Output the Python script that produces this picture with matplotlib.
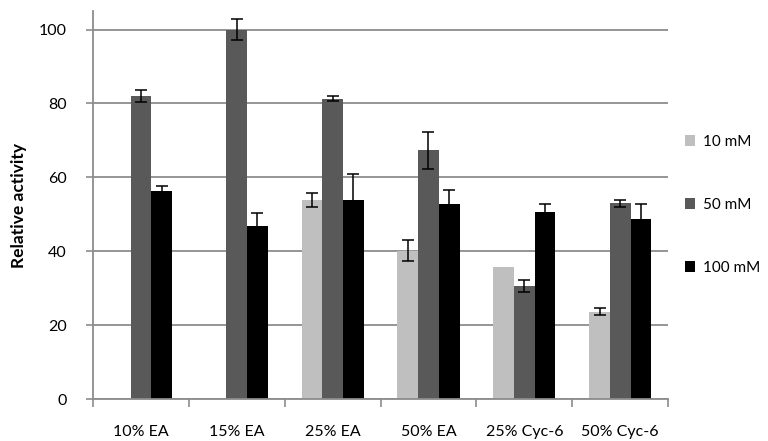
import numpy as np
import matplotlib
matplotlib.use("Agg")
import matplotlib.pyplot as plt

# solvent conditions and measured activity per salt concentration
categories = ["10% EA", "15% EA", "25% EA", "50% EA", "25% Cyc-6", "50% Cyc-6"]
series_names = ["10 mM", "50 mM", "100 mM"]

act_10 = [np.nan, np.nan, 53.8, 40.2, 35.8, 23.7]
act_50 = [82.0, 100.0, 81.3, 67.3, 30.5, 53.0]
act_100 = [56.3, 46.9, 53.8, 52.9, 50.5, 48.7]

err_10 = [np.nan, np.nan, 1.9, 2.9, np.nan, 0.9]
err_50 = [1.5, 2.8, 0.7, 5.0, 1.6, 0.9]
err_100 = [1.4, 3.5, 7.2, 3.8, 2.2, 4.2]

colors = ["#bfbfbf", "#595959", "#000000"]

plt.rcParams["font.family"] = ["Lato", "DejaVu Sans"]

fig = plt.figure(figsize=(7.68, 4.41), dpi=100)
ax = fig.add_axes([0.121, 0.095, 0.749, 0.88])

x = np.arange(len(categories))
w = 0.216
values = [act_10, act_50, act_100]
errors = [err_10, err_50, err_100]

for i, (vals, errs) in enumerate(zip(values, errors)):
    pos = x + (i - 1) * w
    ax.bar(pos, vals, width=w, color=colors[i], label=series_names[i],
           edgecolor="none", zorder=2)
    ax.errorbar(pos, vals, yerr=errs, fmt="none", ecolor="black",
                elinewidth=1.1, capsize=4, capthick=1.1, zorder=3)

ax.set_xlim(-0.5, len(categories) - 0.5)
ax.set_ylim(0, 105)
ax.set_yticks(range(0, 101, 20))
ax.yaxis.grid(True, color="#8c8c8c", linewidth=1.3, zorder=0)
ax.set_axisbelow(True)

# category labels centred, tick marks on category boundaries
ax.set_xticks(x)
ax.set_xticklabels(categories, fontsize=11.5)
ax.set_xticks(np.arange(-0.5, len(categories)), minor=True)
ax.tick_params(axis="x", which="major", length=0, pad=19)
ax.tick_params(axis="x", which="minor", length=6, width=1.2, color="#8c8c8c")
ax.tick_params(axis="y", length=5, width=1.2, color="#8c8c8c", pad=14,
               labelsize=11.5)

for side in ["top", "right"]:
    ax.spines[side].set_visible(False)
for side in ["left", "bottom"]:
    ax.spines[side].set_color("#8c8c8c")
    ax.spines[side].set_linewidth(1.3)

ax.set_ylabel("Relative activity", fontsize=12.5, fontweight="bold", labelpad=8)

ax.legend(loc="center left", bbox_to_anchor=(1.005, 0.5), frameon=False,
          fontsize=11, handlelength=0.7, handleheight=0.7, handletextpad=0.5,
          labelspacing=3.2)

fig.savefig("out.png", dpi=100)
